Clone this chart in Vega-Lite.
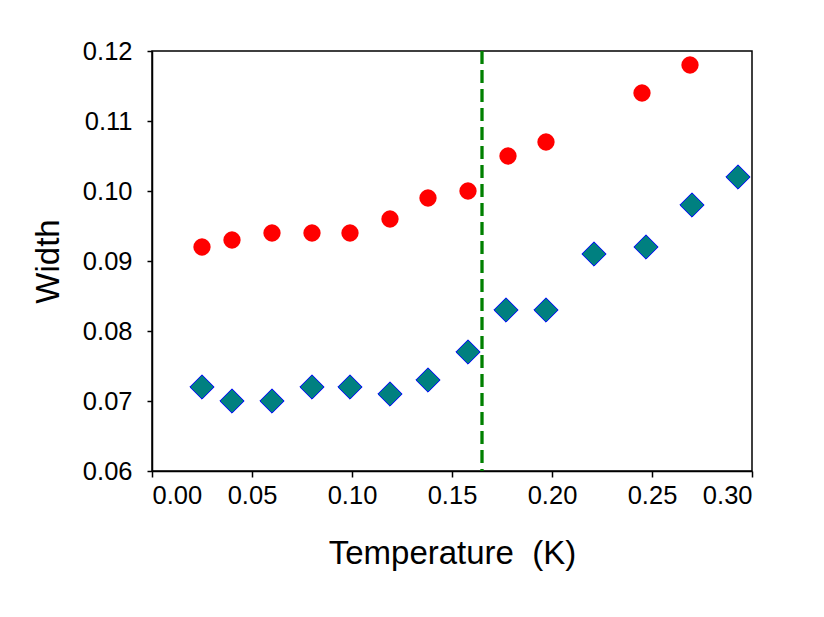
{
  "$schema": "https://vega.github.io/schema/vega-lite/v6.json",
  "width": 600,
  "height": 420,
  "autosize": {"type": "none"},
  "padding": {"left": 152, "top": 51, "right": 72, "bottom": 146},
  "background": "white",
  "datasets": {
    "points": [
      {"t": 0.025, "w": 0.092, "series": "A"},
      {"t": 0.040, "w": 0.093, "series": "A"},
      {"t": 0.060, "w": 0.094, "series": "A"},
      {"t": 0.080, "w": 0.094, "series": "A"},
      {"t": 0.099, "w": 0.094, "series": "A"},
      {"t": 0.119, "w": 0.096, "series": "A"},
      {"t": 0.138, "w": 0.099, "series": "A"},
      {"t": 0.158, "w": 0.100, "series": "A"},
      {"t": 0.178, "w": 0.105, "series": "A"},
      {"t": 0.197, "w": 0.107, "series": "A"},
      {"t": 0.245, "w": 0.114, "series": "A"},
      {"t": 0.269, "w": 0.118, "series": "A"},
      {"t": 0.025, "w": 0.072, "series": "B"},
      {"t": 0.040, "w": 0.070, "series": "B"},
      {"t": 0.060, "w": 0.070, "series": "B"},
      {"t": 0.080, "w": 0.072, "series": "B"},
      {"t": 0.099, "w": 0.072, "series": "B"},
      {"t": 0.119, "w": 0.071, "series": "B"},
      {"t": 0.138, "w": 0.073, "series": "B"},
      {"t": 0.158, "w": 0.077, "series": "B"},
      {"t": 0.177, "w": 0.083, "series": "B"},
      {"t": 0.197, "w": 0.083, "series": "B"},
      {"t": 0.221, "w": 0.091, "series": "B"},
      {"t": 0.247, "w": 0.092, "series": "B"},
      {"t": 0.270, "w": 0.098, "series": "B"},
      {"t": 0.293, "w": 0.102, "series": "B"}
    ],
    "marker": [{"t": 0.165}]
  },
  "layer": [
    {
      "data": {"name": "marker"},
      "mark": {"type": "rule", "color": "#008000", "strokeWidth": 3.3, "strokeDash": [13, 6]},
      "encoding": {"x": {"field": "t", "type": "quantitative"}}
    },
    {
      "data": {"name": "points"},
      "transform": [{"filter": "datum.series === 'A'"}],
      "mark": {"type": "point", "shape": "circle", "filled": true, "size": 300, "color": "#FF0000", "opacity": 1},
      "encoding": {
        "x": {"field": "t", "type": "quantitative"},
        "y": {"field": "w", "type": "quantitative"}
      }
    },
    {
      "data": {"name": "points"},
      "transform": [{"filter": "datum.series === 'B'"}],
      "mark": {"type": "point", "shape": "diamond", "filled": true, "size": 590, "fill": "#008080", "stroke": "#0000FF", "strokeWidth": 1, "opacity": 1, "fillOpacity": 1},
      "encoding": {
        "x": {
          "field": "t", "type": "quantitative",
          "scale": {"domain": [0, 0.3], "nice": false, "zero": false},
          "axis": {"title": "Temperature \u00a0(K)", "values": [0, 0.05, 0.1, 0.15, 0.2, 0.25, 0.3], "format": ".2f", "tickSize": 6, "labelPadding": 6, "titlePadding": 29}
        },
        "y": {
          "field": "w", "type": "quantitative",
          "scale": {"domain": [0.06, 0.12], "nice": false, "zero": false},
          "axis": {"title": "Width", "values": [0.06, 0.07, 0.08, 0.09, 0.1, 0.11, 0.12], "format": ".2f", "tickSize": 5, "labelPadding": 15, "titlePadding": 17}
        }
      }
    }
  ],
  "config": {
    "view": {"stroke": "black", "strokeWidth": 1.5},
    "axis": {
      "grid": false,
      "domainColor": "black",
      "domainWidth": 1.5,
      "tickColor": "black",
      "tickWidth": 1.5,
      "labelFont": "Liberation Sans",
      "labelFontSize": 25.5,
      "labelColor": "black",
      "titleFont": "Liberation Sans",
      "titleFontSize": 33,
      "titleFontWeight": "normal",
      "titleColor": "black"
    }
  }
}
